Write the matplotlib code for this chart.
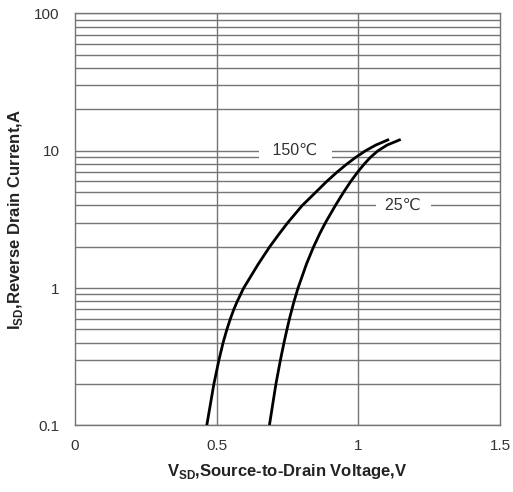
import matplotlib
matplotlib.use("Agg")
import matplotlib.pyplot as plt
from matplotlib.ticker import FixedLocator, NullFormatter

# Reverse drain current (A)
current = [0.1, 0.2, 0.3, 0.4, 0.5, 0.6, 0.7, 0.8, 1, 1.5, 2, 2.5, 3,
           4, 5, 6, 7, 8, 9, 10, 11, 12]
# Source-to-drain voltage at each current (V)
vsd_150 = [0.465, 0.490, 0.508, 0.5225, 0.536, 0.5485, 0.5605, 0.5725,
           0.595, 0.647, 0.687, 0.7215, 0.751, 0.802, 0.850, 0.889, 0.925,
           0.959, 0.992, 1.025, 1.061, 1.104]
vsd_25 = [0.686, 0.709, 0.725, 0.7375, 0.748, 0.757, 0.7655, 0.773, 0.787,
          0.817, 0.842, 0.864, 0.884, 0.919, 0.948, 0.9735, 0.9975, 1.0205,
          1.0435, 1.069, 1.101, 1.145]

x_ticks = [0, 0.5, 1, 1.5]
x_tick_labels = ["0", "0.5", "1", "1.5"]
y_ticks = [0.1, 1, 10, 100]
y_tick_labels = ["0.1", "1", "10", "100"]

plt.rcParams["font.family"] = ["Liberation Sans", "DejaVu Sans"]
plt.rcParams["mathtext.fontset"] = "custom"
plt.rcParams["mathtext.rm"] = "Liberation Sans"
plt.rcParams["mathtext.bf"] = "Liberation Sans:bold"

grid_color = "#757575"
text_color = "#333333"

fig = plt.figure(figsize=(5.13, 4.92), dpi=100)
ax = fig.add_axes([0.1462, 0.1352, 0.8285, 0.8374])

ax.set_yscale("log")
ax.set_xlim(0, 1.5)
ax.set_ylim(0.1, 100)

# Grid: every log minor line horizontally, only 0.5 / 1.0 vertically
minor_y = [m * 10.0 ** e for e in (-1, 0, 1) for m in range(2, 10)]
ax.yaxis.set_major_locator(FixedLocator(y_ticks))
ax.yaxis.set_minor_locator(FixedLocator(minor_y))
ax.yaxis.set_minor_formatter(NullFormatter())
ax.set_yticklabels(y_tick_labels)
ax.set_xticks(x_ticks)
ax.set_xticklabels(x_tick_labels)

for y in y_ticks + minor_y:
    ax.axhline(y, color=grid_color, lw=1.0, zorder=1)
for x in (0.5, 1.0):
    ax.axvline(x, color=grid_color, lw=1.0, zorder=1)

for s in ax.spines.values():
    s.set_color(grid_color)
    s.set_linewidth(1.0)

ax.tick_params(which="both", length=0, labelsize=11, labelcolor=text_color)
ax.tick_params(axis="y", pad=11)
ax.tick_params(axis="x", pad=10)

# Curves
ax.plot(vsd_150, current, color="black", lw=2, zorder=3)
ax.plot(vsd_25, current, color="black", lw=2, zorder=3)

box = dict(facecolor="white", edgecolor="none", pad=0.5)
ax.text(0.777, 10, "   150\u2103   ", fontsize=11.5, color=text_color,
        ha="center", va="center", bbox=box, zorder=2)
ax.text(1.158, 4.0, "  25\u2103  ", fontsize=11.5, color=text_color,
        ha="center", va="center", bbox=box, zorder=2)

ax.set_xlabel(r"V$_\mathbf{SD}$,Source-to-Drain Voltage,V",
              fontsize=12, fontweight="bold", color="#222222",
              va="center", ha="center")
ax.xaxis.set_label_coords(0.5, -0.112)
ax.set_ylabel(r"I$_\mathbf{SD}$,Reverse Drain Current,A",
              fontsize=12, fontweight="bold", color="#222222",
              va="center", ha="center")
ax.yaxis.set_label_coords(-0.141, 0.5)

fig.savefig("out.png", dpi=100)
